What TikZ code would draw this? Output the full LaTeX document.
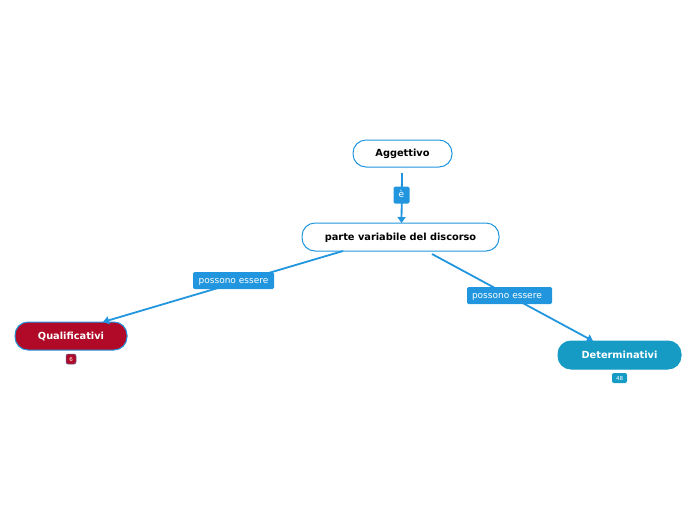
\documentclass[tikz,border=0pt]{standalone}
\usepackage{fontspec}
\setmainfont{DejaVu Sans}
\usetikzlibrary{arrows.meta}
\definecolor{lineblue}{HTML}{2196DE}
\definecolor{qred}{HTML}{B00A28}
\definecolor{dteal}{HTML}{169BC4}
\tikzset{
  topic/.style={draw=lineblue, line width=1pt, rounded corners=13pt, minimum height=27pt, inner sep=0pt, font=\fontsize{9.8}{11}\selectfont\bfseries, text height=0.72em, text depth=0.12em, fill=white, text=black},
  lbl/.style={fill=lineblue, text=white, rounded corners=1.5pt, inner sep=0pt, minimum height=17pt, font=\fontsize{9}{10}\selectfont, text height=0.62em, text depth=0.1em},
  badge/.style={rounded corners=2pt, inner sep=0pt, minimum height=10pt, text=white, font=\fontsize{5.5}{6}\selectfont},
  conn/.style={draw=lineblue, line width=1.8pt, -{Triangle[width=8pt,length=6pt]}}
}
\begin{document}
\begin{tikzpicture}[x=1pt,y=-1pt]
\useasboundingbox (0,0) rectangle (696,520);
\node[topic, minimum width=99pt] (agg) at (402.5,153.5) {Aggettivo};
\node[topic, minimum width=197pt, minimum height=28pt] (par) at (400.5,237) {parte variabile del discorso};
\node[topic, minimum width=112pt, minimum height=28pt, fill=qred, text=white] (qual) at (71,336) {Qualificativi};
\node[topic, minimum width=123pt, minimum height=28pt, fill=dteal, draw=dteal, text=white] (det) at (619.5,355) {Determinativi};
\node[badge, fill=qred, draw=lineblue!60!qred, line width=0.5pt, minimum width=10pt] (b6) at (71,359) {6};
\node[badge, fill=dteal, minimum width=15pt] (b48) at (619.5,378) {48};
% connectors
\coordinate (s1) at (402,173);
\coordinate (e1) at (401.5,223);
\coordinate (s2) at (343,251);
\coordinate (e2) at (103,322);
\coordinate (s3) at (432,254);
\coordinate (e3) at (593,341);
\draw[conn] (s1) -- (e1);
\draw[conn] (s2) -- (e2);
\draw[conn] (s3) -- (e3);
\node[lbl, minimum width=16pt] (l1) at (401.5,195) {è};
\node[lbl, minimum width=81pt] (l2) at (233.5,280.5) {possono essere};
\node[lbl, minimum width=85pt, text width=75pt, align=left] (l3) at (509.5,295.5) {possono essere};
\end{tikzpicture}
\end{document}
